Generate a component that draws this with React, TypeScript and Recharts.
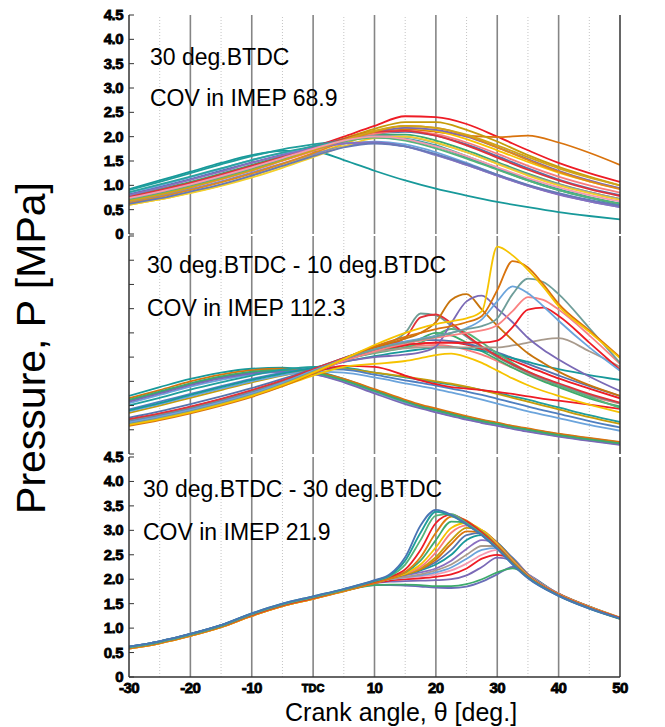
import React from "react";
import { LineChart, Line, XAxis, YAxis, ReferenceLine } from "recharts";

const FONT = "'Liberation Sans', Arial, Helvetica, sans-serif";

const X_TICKS = [-30, -20, -10, 0, 10, 20, 30, 40, 50];
const MAJOR_X = [-20, -10, 0, 10, 20, 30, 40];
const MINOR_X = [-25, -15, -5, 5, 15, 25, 35, 45];
const Y_TICKS = [0, 0.5, 1, 1.5, 2, 2.5, 3, 3.5, 4, 4.5];

// top panel: 30 deg.BTDC
const A_ANGLES = [-30, -25, -20, -15, -10, -5, 0, 5, 10, 15, 20, 25, 30, 35, 40, 45, 50];
const A_CURVES = [
  [0.92, 1.1, 1.28, 1.46, 1.62, 1.71, 1.7, 1.52, 1.3, 1.1, 0.93, 0.79, 0.66, 0.55, 0.45, 0.37, 0.3],
  [0.9, 1.07, 1.25, 1.43, 1.6, 1.74, 1.84, 1.92, 1.98, 1.94, 1.8, 1.58, 1.34, 1.1, 0.9, 0.74, 0.6],
  [0.72, 0.85, 1.0, 1.17, 1.36, 1.56, 1.78, 2.0, 2.22, 2.42, 2.4, 2.26, 2.0, 1.72, 1.46, 1.25, 1.07],
  [0.7, 0.83, 0.98, 1.15, 1.33, 1.53, 1.75, 1.96, 2.12, 2.15, 2.1, 2.02, 1.99, 2.02, 1.88, 1.67, 1.42],
  [0.7, 0.82, 0.97, 1.13, 1.32, 1.52, 1.74, 1.96, 2.16, 2.3, 2.3, 2.14, 1.9, 1.62, 1.38, 1.18, 1.0],
  [0.6, 0.71, 0.85, 1.0, 1.2, 1.4, 1.62, 1.85, 2.06, 2.18, 2.12, 1.95, 1.72, 1.48, 1.26, 1.08, 0.93],
  [0.82, 0.97, 1.13, 1.3, 1.47, 1.63, 1.8, 1.95, 2.06, 2.1, 2.02, 1.84, 1.6, 1.35, 1.12, 0.94, 0.8],
  [0.75, 0.88, 1.03, 1.2, 1.38, 1.57, 1.76, 1.94, 2.08, 2.18, 2.14, 2.0, 1.78, 1.54, 1.3, 1.1, 0.94],
  [0.78, 0.92, 1.07, 1.24, 1.42, 1.6, 1.78, 1.94, 2.04, 2.04, 1.92, 1.72, 1.48, 1.24, 1.03, 0.86, 0.72],
  [0.68, 0.8, 0.95, 1.12, 1.3, 1.5, 1.7, 1.9, 2.06, 2.12, 2.05, 1.88, 1.65, 1.4, 1.18, 1.0, 0.85],
  [0.85, 1.0, 1.17, 1.34, 1.52, 1.66, 1.78, 1.86, 1.9, 1.84, 1.68, 1.46, 1.22, 1.0, 0.82, 0.67, 0.55],
  [0.72, 0.85, 1.0, 1.17, 1.35, 1.54, 1.74, 1.92, 2.02, 2.0, 1.87, 1.68, 1.45, 1.22, 1.02, 0.86, 0.72],
  [0.66, 0.78, 0.92, 1.08, 1.26, 1.45, 1.64, 1.8, 1.88, 1.8, 1.62, 1.42, 1.2, 0.99, 0.82, 0.68, 0.56],
  [0.76, 0.9, 1.05, 1.22, 1.4, 1.58, 1.77, 1.95, 2.1, 2.12, 2.02, 1.82, 1.57, 1.32, 1.1, 0.92, 0.78],
  [0.86, 1.02, 1.18, 1.35, 1.52, 1.67, 1.8, 1.92, 2.0, 1.96, 1.82, 1.6, 1.36, 1.12, 0.92, 0.76, 0.63],
  [0.64, 0.76, 0.9, 1.06, 1.24, 1.44, 1.66, 1.9, 2.1, 2.22, 2.18, 2.02, 1.78, 1.52, 1.28, 1.08, 0.92],
  [0.6, 0.71, 0.84, 0.99, 1.16, 1.36, 1.58, 1.8, 1.97, 2.0, 1.88, 1.68, 1.44, 1.2, 1.0, 0.84, 0.7],
  [0.7, 0.83, 0.98, 1.15, 1.33, 1.53, 1.73, 1.9, 1.98, 1.92, 1.76, 1.55, 1.32, 1.1, 0.9, 0.75, 0.62],
  [0.8, 0.95, 1.11, 1.28, 1.46, 1.62, 1.76, 1.86, 1.88, 1.8, 1.63, 1.42, 1.2, 0.99, 0.81, 0.67, 0.55],
  [0.68, 0.81, 0.96, 1.13, 1.31, 1.51, 1.72, 1.93, 2.12, 2.22, 2.18, 2.04, 1.82, 1.58, 1.35, 1.16, 1.0],
  [0.74, 0.87, 1.02, 1.19, 1.37, 1.56, 1.75, 1.92, 2.0, 1.95, 1.8, 1.6, 1.37, 1.15, 0.96, 0.8, 0.67],
  [0.62, 0.73, 0.87, 1.02, 1.2, 1.4, 1.6, 1.78, 1.86, 1.8, 1.64, 1.44, 1.22, 1.01, 0.84, 0.7, 0.58],
];
const A_COLORS = [
  "#17999a", "#1f9e9c", "#ee1c25", "#d9730d", "#c69c0a", "#f6c300", "#5573ad", "#7a69b6",
  "#3daa6c", "#f87c7c", "#6ba4dc", "#9a9aa0", "#7d86c8", "#e0323a", "#2aa3a0", "#e08a1a",
  "#f3cf2a", "#55b47a", "#8a6fc0", "#d0a418", "#f59ab0", "#6679b8",
];

// middle panel: 30 deg.BTDC - 10 deg.BTDC
const B_ANGLES = [-30, -25, -20, -15, -10, -5, 0, 5, 10, 15, 17.5, 20, 22.5, 25, 27.5, 30, 32.5, 35, 37.5, 40, 45, 50];
const B_CURVES = [
  [1.2, 1.38, 1.55, 1.68, 1.76, 1.78, 1.72, 1.55, 1.32, 1.1, 1.0, 0.92, 0.84, 0.77, 0.7, 0.63, 0.57, 0.51, 0.46, 0.41, 0.32, 0.24],
  [1.1, 1.27, 1.44, 1.58, 1.68, 1.72, 1.68, 1.53, 1.3, 1.08, 0.98, 0.89, 0.81, 0.74, 0.67, 0.6, 0.54, 0.48, 0.43, 0.38, 0.29, 0.21],
  [1.15, 1.32, 1.5, 1.64, 1.73, 1.76, 1.7, 1.55, 1.34, 1.12, 1.02, 0.94, 0.86, 0.78, 0.71, 0.65, 0.58, 0.53, 0.47, 0.42, 0.33, 0.25],
  [1.05, 1.22, 1.39, 1.53, 1.64, 1.69, 1.65, 1.5, 1.28, 1.06, 0.96, 0.87, 0.79, 0.72, 0.65, 0.59, 0.53, 0.47, 0.42, 0.37, 0.28, 0.2],
  [1.08, 1.25, 1.42, 1.56, 1.66, 1.7, 1.65, 1.48, 1.25, 1.03, 0.94, 0.86, 0.78, 0.71, 0.64, 0.58, 0.52, 0.46, 0.41, 0.36, 0.27, 0.19],
  [1.12, 1.29, 1.46, 1.6, 1.7, 1.73, 1.68, 1.52, 1.3, 1.08, 0.98, 0.9, 0.82, 0.75, 0.68, 0.62, 0.55, 0.5, 0.44, 0.39, 0.3, 0.22],
  [1.0, 1.16, 1.33, 1.48, 1.62, 1.74, 1.8, 1.78, 1.68, 1.58, 1.53, 1.48, 1.43, 1.38, 1.32, 1.26, 1.19, 1.12, 1.04, 0.96, 0.8, 0.66],
  [0.85, 1.0, 1.16, 1.32, 1.48, 1.62, 1.72, 1.75, 1.68, 1.6, 1.55, 1.5, 1.45, 1.39, 1.32, 1.24, 1.16, 1.08, 1.0, 0.92, 0.76, 0.62],
  [0.92, 1.08, 1.24, 1.4, 1.55, 1.68, 1.76, 1.74, 1.64, 1.52, 1.47, 1.41, 1.35, 1.29, 1.22, 1.14, 1.06, 0.98, 0.9, 0.83, 0.68, 0.55],
  [0.88, 1.03, 1.19, 1.35, 1.5, 1.63, 1.7, 1.68, 1.58, 1.46, 1.4, 1.34, 1.27, 1.2, 1.12, 1.04, 0.96, 0.88, 0.81, 0.74, 0.6, 0.48],
  [0.7, 0.83, 0.97, 1.13, 1.3, 1.48, 1.68, 1.82, 1.8, 1.62, 1.52, 1.44, 1.38, 1.35, 1.32, 1.28, 1.24, 1.19, 1.14, 1.1, 1.02, 0.93],
  [0.6, 0.72, 0.86, 1.02, 1.2, 1.4, 1.62, 1.8, 1.86, 1.92, 1.98, 2.04, 2.07, 2.0, 1.88, 1.72, 1.56, 1.42, 1.3, 1.2, 1.02, 0.86],
  [0.64, 0.76, 0.9, 1.06, 1.24, 1.44, 1.68, 1.92, 2.1, 2.2, 2.24, 2.25, 2.22, 2.15, 2.05, 1.92, 1.78, 1.65, 1.52, 1.4, 1.2, 1.04],
  [0.7, 0.82, 0.96, 1.12, 1.3, 1.5, 1.72, 1.95, 2.1, 2.25, 2.38, 2.5, 2.45, 2.3, 2.12, 1.95, 1.78, 1.63, 1.5, 1.38, 1.15, 0.98],
  [0.66, 0.78, 0.92, 1.08, 1.26, 1.46, 1.7, 1.94, 2.14, 2.24, 2.28, 2.3, 2.3, 2.26, 2.16, 2.05, 1.93, 1.8, 1.68, 1.56, 1.35, 1.15],
  [0.75, 0.88, 1.03, 1.19, 1.36, 1.55, 1.76, 1.98, 2.2, 2.32, 2.35, 2.35, 2.33, 2.28, 2.2, 2.1, 1.98, 1.86, 1.74, 1.62, 1.4, 1.2],
  [0.9, 1.05, 1.22, 1.38, 1.53, 1.66, 1.78, 1.9, 2.02, 2.12, 2.16, 2.2, 2.2, 2.18, 2.13, 2.06, 1.98, 1.9, 1.82, 1.75, 1.63, 1.53],
  [0.68, 0.8, 0.94, 1.1, 1.28, 1.48, 1.72, 1.95, 2.08, 2.2, 2.3, 2.45, 2.58, 2.5, 2.3, 2.08, 1.88, 1.7, 1.55, 1.42, 1.18, 0.95],
  [0.7, 0.82, 0.96, 1.12, 1.3, 1.5, 1.74, 1.98, 2.2, 2.5, 2.9, 2.86, 2.65, 2.42, 2.2, 2.0, 1.83, 1.68, 1.55, 1.44, 1.22, 1.05],
  [0.72, 0.84, 0.98, 1.14, 1.32, 1.52, 1.75, 1.98, 2.18, 2.4, 2.82, 2.88, 2.7, 2.45, 2.22, 2.02, 1.85, 1.7, 1.57, 1.46, 1.24, 1.06],
  [0.64, 0.76, 0.9, 1.06, 1.24, 1.45, 1.7, 1.94, 2.1, 2.18, 2.2, 2.2, 2.2, 2.2, 2.2, 2.2, 2.24, 2.3, 2.36, 2.39, 2.12, 1.8],
  [0.6, 0.72, 0.86, 1.02, 1.2, 1.42, 1.68, 1.96, 2.2, 2.38, 2.5, 2.72, 3.18, 3.3, 2.98, 2.65, 2.35, 2.08, 1.88, 1.7, 1.42, 1.2],
  [0.66, 0.78, 0.92, 1.08, 1.26, 1.46, 1.7, 1.9, 2.0, 2.05, 2.1, 2.22, 2.7, 3.15, 3.27, 3.0, 2.72, 2.4, 2.15, 1.95, 1.6, 1.3],
  [0.62, 0.74, 0.88, 1.04, 1.22, 1.44, 1.7, 1.94, 2.14, 2.26, 2.28, 2.3, 2.3, 2.3, 2.3, 2.34, 2.62, 2.98, 3.02, 2.85, 2.3, 1.74],
  [0.6, 0.72, 0.86, 1.02, 1.2, 1.42, 1.68, 1.92, 2.12, 2.28, 2.34, 2.4, 2.45, 2.5, 2.55, 2.66, 2.95, 3.24, 3.18, 2.98, 2.45, 1.86],
  [0.65, 0.77, 0.91, 1.07, 1.25, 1.47, 1.72, 1.96, 2.16, 2.32, 2.38, 2.44, 2.5, 2.6, 2.78, 3.15, 3.46, 3.32, 3.05, 2.75, 2.2, 1.72],
  [0.62, 0.74, 0.88, 1.04, 1.22, 1.44, 1.7, 1.96, 2.16, 2.3, 2.36, 2.42, 2.5, 2.58, 2.64, 2.8, 3.3, 3.62, 3.55, 3.3, 2.6, 1.88],
  [0.58, 0.7, 0.84, 1.0, 1.18, 1.4, 1.66, 1.96, 2.22, 2.42, 2.5, 2.58, 2.64, 2.72, 2.85, 3.38, 3.98, 3.85, 3.5, 3.1, 2.55, 2.0],
  [0.6, 0.72, 0.86, 1.02, 1.2, 1.42, 1.68, 1.96, 2.25, 2.5, 2.6, 2.68, 2.74, 2.8, 2.95, 4.28, 4.1, 3.8, 3.45, 3.05, 2.52, 1.98],
];
const B_COLORS = [
  "#17999a", "#5573ad", "#d9730d", "#6ba4dc", "#7a69b6", "#3daa6c", "#1f9e9c", "#c69c0a",
  "#4f7fc0", "#6ba4dc", "#ee1c25", "#f6c300", "#f87c7c", "#3daa6c", "#ee1c25", "#5573ad",
  "#17999a", "#55b47a", "#6f9c94", "#e0323a", "#a89a8c", "#c8740c", "#7a69b6", "#ee1c25",
  "#fa8282", "#6ba4dc", "#6f9e9a", "#d9730d", "#f6c300",
];

// bottom panel: 30 deg.BTDC - 30 deg.BTDC
const C_ANGLES = [-30, -25, -20, -15, -10, -5, 0, 5, 10, 12.5, 15, 17.5, 20, 22.5, 25, 27.5, 30, 32.5, 35, 40, 45, 50];
const C_CURVES = [
  [0.61, 0.72, 0.87, 1.05, 1.28, 1.48, 1.63, 1.77, 1.88, 1.88, 1.87, 1.85, 1.83, 1.82, 1.85, 1.95, 2.1, 2.25, 2.1, 1.7, 1.43, 1.2],
  [0.6, 0.71, 0.86, 1.04, 1.27, 1.47, 1.62, 1.76, 1.88, 1.89, 1.89, 1.88, 1.86, 1.86, 1.9, 2.0, 2.14, 2.22, 2.08, 1.7, 1.43, 1.2],
  [0.62, 0.73, 0.88, 1.06, 1.29, 1.49, 1.64, 1.78, 1.92, 1.95, 1.96, 1.97, 1.98, 2.0, 2.08, 2.25, 2.44, 2.38, 2.1, 1.7, 1.43, 1.21],
  [0.6, 0.71, 0.86, 1.04, 1.27, 1.47, 1.62, 1.76, 1.92, 1.97, 2.0, 2.02, 2.05, 2.1, 2.22, 2.42, 2.5, 2.4, 2.1, 1.7, 1.43, 1.2],
  [0.61, 0.72, 0.87, 1.05, 1.28, 1.48, 1.63, 1.78, 1.94, 2.0, 2.03, 2.06, 2.1, 2.18, 2.32, 2.5, 2.6, 2.44, 2.11, 1.71, 1.44, 1.21],
  [0.6, 0.71, 0.86, 1.04, 1.27, 1.47, 1.62, 1.77, 1.93, 2.0, 2.04, 2.08, 2.14, 2.24, 2.42, 2.6, 2.64, 2.44, 2.1, 1.7, 1.44, 1.2],
  [0.59, 0.7, 0.85, 1.03, 1.26, 1.46, 1.61, 1.76, 1.92, 2.0, 2.05, 2.1, 2.18, 2.3, 2.5, 2.68, 2.68, 2.42, 2.1, 1.7, 1.43, 1.21],
  [0.61, 0.72, 0.87, 1.05, 1.28, 1.48, 1.63, 1.78, 1.95, 2.03, 2.08, 2.14, 2.22, 2.38, 2.62, 2.8, 2.72, 2.43, 2.1, 1.7, 1.43, 1.2],
  [0.6, 0.71, 0.86, 1.04, 1.27, 1.47, 1.62, 1.77, 1.94, 2.03, 2.1, 2.18, 2.3, 2.5, 2.8, 2.9, 2.74, 2.42, 2.09, 1.69, 1.43, 1.2],
  [0.62, 0.73, 0.88, 1.06, 1.29, 1.49, 1.64, 1.79, 1.96, 2.05, 2.12, 2.2, 2.35, 2.6, 2.9, 2.95, 2.75, 2.42, 2.09, 1.7, 1.44, 1.21],
  [0.58, 0.69, 0.84, 1.02, 1.25, 1.45, 1.6, 1.75, 1.92, 2.01, 2.1, 2.2, 2.4, 2.72, 2.98, 2.96, 2.73, 2.4, 2.08, 1.69, 1.43, 1.2],
  [0.59, 0.7, 0.85, 1.03, 1.26, 1.46, 1.61, 1.76, 1.93, 2.02, 2.1, 2.22, 2.45, 2.8, 3.05, 3.0, 2.74, 2.4, 2.08, 1.7, 1.44, 1.22],
  [0.61, 0.72, 0.87, 1.05, 1.28, 1.48, 1.63, 1.78, 1.95, 2.04, 2.12, 2.25, 2.55, 2.95, 3.1, 3.0, 2.72, 2.38, 2.07, 1.69, 1.43, 1.21],
  [0.58, 0.69, 0.84, 1.02, 1.25, 1.45, 1.6, 1.76, 1.94, 2.03, 2.12, 2.3, 2.65, 3.05, 3.15, 3.0, 2.7, 2.36, 2.06, 1.68, 1.42, 1.2],
  [0.6, 0.71, 0.86, 1.04, 1.27, 1.47, 1.62, 1.77, 1.94, 2.04, 2.14, 2.38, 2.8, 3.18, 3.15, 2.97, 2.68, 2.35, 2.05, 1.67, 1.41, 1.2],
  [0.58, 0.69, 0.84, 1.02, 1.25, 1.45, 1.6, 1.76, 1.93, 2.02, 2.15, 2.45, 2.95, 3.28, 3.2, 2.96, 2.67, 2.34, 2.05, 1.67, 1.41, 1.19],
  [0.6, 0.71, 0.86, 1.04, 1.27, 1.47, 1.62, 1.78, 1.95, 2.05, 2.2, 2.6, 3.15, 3.32, 3.18, 2.95, 2.66, 2.33, 2.05, 1.68, 1.42, 1.21],
  [0.6, 0.71, 0.86, 1.04, 1.28, 1.48, 1.63, 1.78, 1.96, 2.06, 2.3, 2.8, 3.3, 3.33, 3.15, 2.92, 2.64, 2.32, 2.04, 1.67, 1.41, 1.2],
  [0.62, 0.73, 0.88, 1.06, 1.3, 1.5, 1.65, 1.8, 1.97, 2.08, 2.38, 2.95, 3.38, 3.3, 3.12, 2.9, 2.62, 2.31, 2.03, 1.66, 1.4, 1.19],
  [0.62, 0.73, 0.88, 1.06, 1.3, 1.5, 1.65, 1.8, 1.98, 2.1, 2.45, 3.1, 3.42, 3.32, 3.12, 2.9, 2.62, 2.3, 2.02, 1.66, 1.4, 1.2],
];
const C_COLORS = [
  "#6a6fb8", "#3daa6c", "#7a69b6", "#ee1c25", "#f59ab0", "#6ba4dc", "#a89a8c", "#8a6fc0",
  "#17999a", "#5573ad", "#d9730d", "#c69c0a", "#f87c7c", "#f6c300", "#3daa6c", "#e07b10",
  "#ee1c25", "#55b47a", "#1f9e9c", "#4a74b4",
];

const yLabel = (v: number) => (v === 0 ? "0" : v.toFixed(1));

// heavy, slightly smeared look of the original axis numbers
const boldText = { fontFamily: FONT, fontWeight: "bold" as const, fill: "#000", stroke: "#000", strokeWidth: 0.8 };

function makeYTick(show: boolean) {
  return function YTick(props: any) {
    const { x, y, payload, textAnchor } = props;
    if (!show) return <g />;
    return (
      <text x={x} y={y} dy={5} textAnchor={textAnchor} fontSize={15} letterSpacing={-0.5} style={boldText}>
        {yLabel(payload.value)}
      </text>
    );
  };
}

function XTick(props: any) {
  const { x, y, payload } = props;
  const v = payload.value;
  if (v === 0) {
    return (
      <text x={x} y={y + 15} textAnchor="middle" fontSize={11} style={boldText}>
        TDC
      </text>
    );
  }
  return (
    <text x={x} y={y + 16} textAnchor="middle" fontSize={15} letterSpacing={-0.5} style={boldText}>
      {v}
    </text>
  );
}

type PanelProps = {
  angles: number[];
  curves: number[][];
  colors: string[];
  top: number;
  height: number;
  labelSide: "left" | "right";
  showX: boolean;
};

function Panel({ angles, curves, colors, top, height, labelSide, showX }: PanelProps) {
  const rows = angles.map((a, i) => {
    const r: Record<string, number> = { a };
    curves.forEach((c, k) => {
      r["c" + k] = c[i];
    });
    return r;
  });
  const mt = 10;
  const xh = showX ? 30 : 0;
  const mb = 10;
  return (
    <div style={{ position: "absolute", left: 0, top: top - mt }}>
      <LineChart width={665} height={height + mt + mb + xh} data={rows} margin={{ top: mt, right: 0, bottom: mb, left: 0 }}>
        <XAxis
          xAxisId="b"
          dataKey="a"
          type="number"
          domain={[-30, 50]}
          ticks={X_TICKS}
          height={xh}
          tick={showX ? <XTick /> : false}
          tickLine={false}
          tickSize={0}
          tickMargin={0}
          axisLine={{ stroke: "#333", strokeWidth: 1.5 }}
          allowDataOverflow
        />
        <XAxis
          xAxisId="t"
          orientation="top"
          dataKey="a"
          type="number"
          domain={[-30, 50]}
          height={0}
          tick={false}
          tickLine={false}
          axisLine={{ stroke: "#333", strokeWidth: 1.5 }}
        />
        <YAxis
          yAxisId="L"
          orientation="left"
          width={129}
          domain={[0, 4.5]}
          ticks={Y_TICKS}
          tick={makeYTick(labelSide === "left")}
          tickSize={-5}
          tickMargin={11}
          tickLine={{ stroke: "#333" }}
          axisLine={{ stroke: "#333", strokeWidth: 1.5 }}
          interval={0}
        />
        <YAxis
          yAxisId="R"
          orientation="right"
          width={45}
          domain={[0, 4.5]}
          ticks={Y_TICKS}
          tick={makeYTick(labelSide === "right")}
          tickSize={-5}
          tickMargin={10}
          tickLine={{ stroke: "#333" }}
          axisLine={{ stroke: "#333", strokeWidth: 1.5 }}
          interval={0}
        />
        {MINOR_X.map((v) => (
          <ReferenceLine key={"m" + v} x={v} xAxisId="b" yAxisId="L" stroke="#c4c4c4" strokeDasharray="1 2" />
        ))}
        {MAJOR_X.map((v) => (
          <ReferenceLine key={"M" + v} x={v} xAxisId="b" yAxisId="L" stroke="#858585" strokeWidth={1.6} />
        ))}
        {curves.map((_, k) => (
          <Line
            key={k}
            xAxisId="b"
            yAxisId="L"
            dataKey={"c" + k}
            type="monotone"
            stroke={colors[k % colors.length]}
            strokeWidth={1.8}
            dot={false}
            isAnimationActive={false}
          />
        ))}
      </LineChart>
    </div>
  );
}

const textStyle = { fontFamily: FONT, fontSize: 23, fill: "#000" } as const;

export default function App() {
  return (
    <div style={{ position: "absolute", left: 0, top: 0, width: 665, height: 727, background: "#fff" }}>
      <Panel angles={A_ANGLES} curves={A_CURVES} colors={A_COLORS} top={15} height={219} labelSide="left" showX={false} />
      <Panel angles={B_ANGLES} curves={B_CURVES} colors={B_COLORS} top={236} height={218} labelSide="right" showX={false} />
      <Panel angles={C_ANGLES} curves={C_CURVES} colors={C_COLORS} top={457} height={220} labelSide="left" showX={true} />
      <svg width={665} height={727} style={{ position: "absolute", left: 0, top: 0, pointerEvents: "none" }}>
        <text x={150} y={65} {...textStyle}>30 deg.BTDC</text>
        <text x={150} y={106} {...textStyle}>COV in IMEP 68.9</text>
        <text x={147} y={273} {...textStyle}>30 deg.BTDC - 10 deg.BTDC</text>
        <text x={147} y={316} {...textStyle}>COV in IMEP 112.3</text>
        <text x={143} y={497} {...textStyle}>30 deg.BTDC - 30 deg.BTDC</text>
        <text x={143} y={540} {...textStyle}>COV in IMEP 21.9</text>
        <text x={285} y={721} fontFamily={FONT} fontSize={25} fill="#000">
          Crank angle, θ [deg.]
        </text>
        <text
          x={0}
          y={0}
          transform="translate(45,348) rotate(-90)"
          textAnchor="middle"
          fontFamily={FONT}
          fontSize={41}
          fill="#000"
        >
          Pressure, P [MPa]
        </text>
      </svg>
    </div>
  );
}
